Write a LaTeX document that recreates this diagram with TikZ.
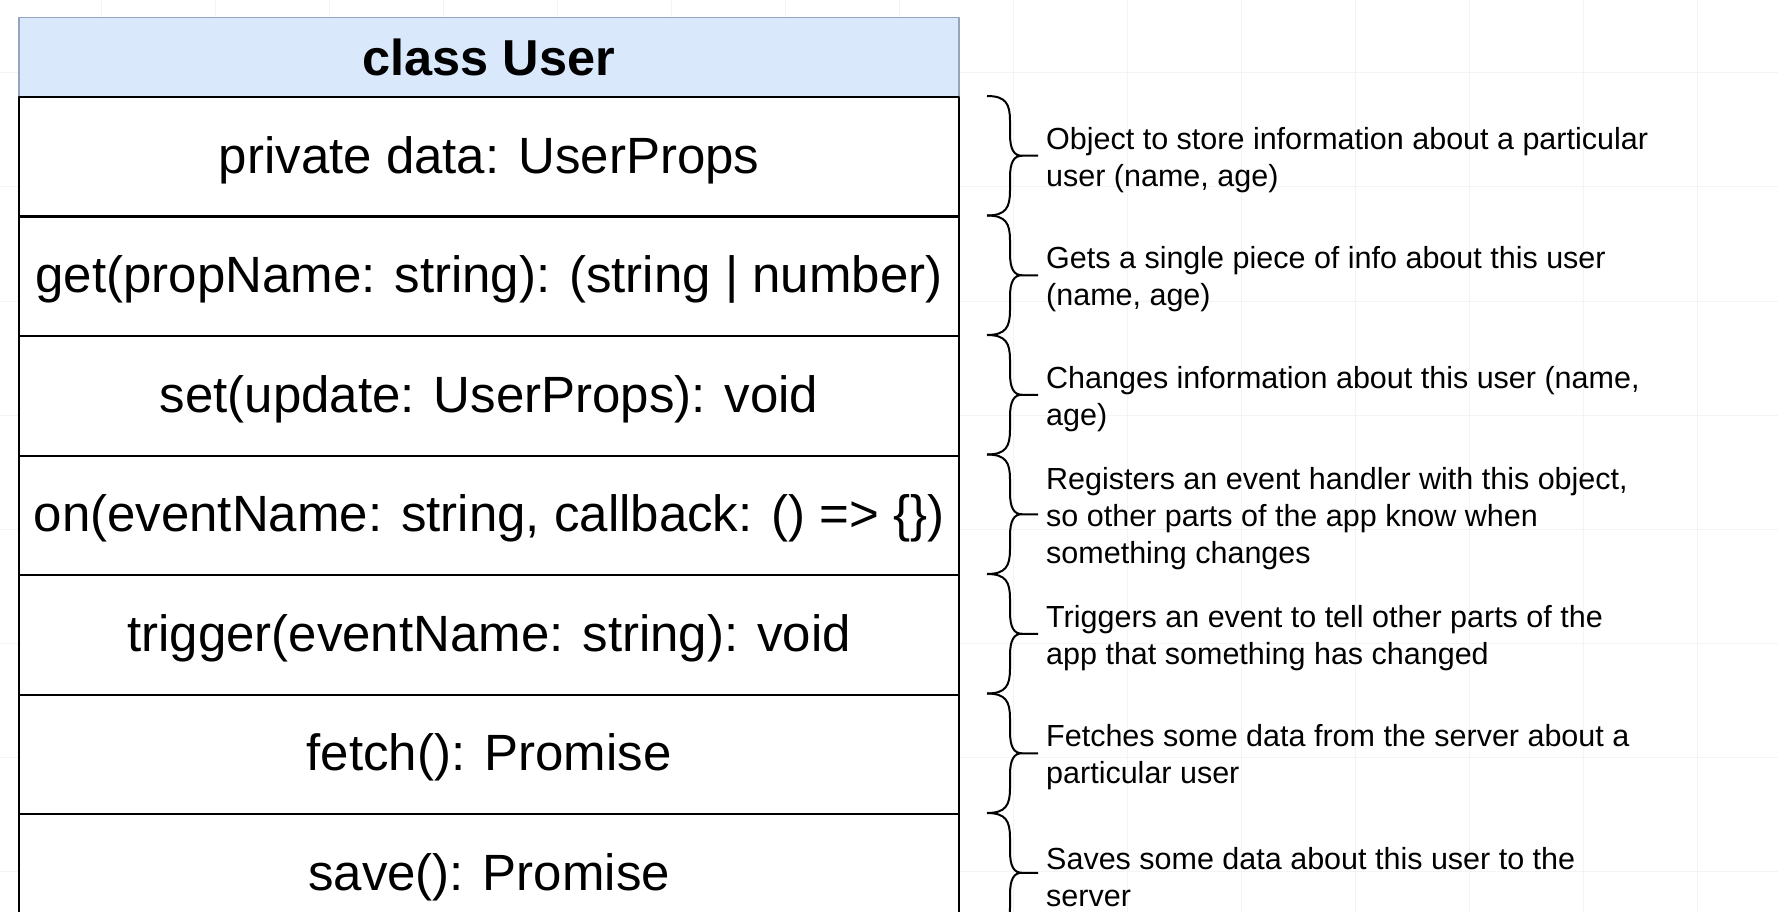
\documentclass[tikz,border=0pt]{standalone}
\usepackage{fontspec}
\setmainfont{Liberation Sans}
\definecolor{hdrfill}{RGB}{218,232,252}
\definecolor{hdrline}{RGB}{150,165,190}
\definecolor{gridc}{RGB}{244,244,244}
\begin{document}
\begin{tikzpicture}[x=1pt,y=-1pt,line join=round,
  gridline/.style={draw=gridc,line width=1pt},
  rowbox/.style={draw=black,line width=2.2pt,fill=white,minimum width=940pt,minimum height=119.5pt,anchor=north west,inner sep=0pt,
    font=\fontsize{51}{61}\selectfont,text height=37pt,text depth=4pt},
  hdrbox/.style={draw=hdrline,line width=1.5pt,fill=hdrfill,minimum width=940pt,minimum height=79pt,anchor=north west,inner sep=0pt,
    font=\fontsize{50.5}{61}\selectfont\bfseries,text height=37pt,text depth=0pt},
  desc/.style={font=\fontsize{30.5}{37}\selectfont,anchor=west,align=left,inner sep=0pt},
  bracepath/.style={draw=black,line width=2pt}]
\useasboundingbox (0,0) rectangle (1778,912);
\clip (0,0) rectangle (1778,912);
\fill[white] (0,0) rectangle (1778,912);
% faint background grid
\foreach \gx in {101,215,...,1778} \draw[gridline] (\gx,0) -- (\gx,912);
\foreach \gy in {73,187,...,912} \draw[gridline] (0,\gy) -- (1778,\gy);
% class box
\node[hdrbox] (hdr) at (18,17) {class User};
\node[rowbox] (r1) at (18,96) {private data: UserProps};
\node[rowbox] (r2) at (18,215.5) {get(propName: string): (string | number)};
\node[rowbox] (r3) at (18,335) {set(update: UserProps): void};
\node[rowbox] (r4) at (18,454.5) {on(eventName: string, callback: () => \{\})};
\node[rowbox] (r5) at (18,574) {trigger(eventName: string): void};
\node[rowbox] (r6) at (18,693.5) {fetch(): Promise};
\node[rowbox] (r7) at (18,813) {save(): Promise};
% braces
\foreach \ya/\yb/\nm in {96/215.5/b1,215.5/335/b2,335/454.5/b3,454.5/574/b4,574/693.5/b5,693.5/813/b6,813/932.5/b7}{
  \pgfmathsetmacro\ym{(\ya+\yb)/2}
  \coordinate (\nm) at (1038,\ym);
  \draw[bracepath] (987,\ya) .. controls (1006,\ya) and (1010,\ya+8) .. (1010,\ya+25)
    -- (1010,\ym-22) .. controls (1010,\ym-6) and (1014,\ym) .. (1022,\ym) -- (\nm)
    (1022,\ym) .. controls (1014,\ym) and (1010,\ym+6) .. (1010,\ym+22)
    -- (1010,\yb-25) .. controls (1010,\yb-8) and (1006,\yb) .. (987,\yb);
}
% descriptions
\node[desc] (d1) at ([xshift=8pt,yshift=-4pt]b1) {Object to store information about a particular\\user (name, age)};
\node[desc] (d2) at ([xshift=8pt,yshift=-4pt]b2) {Gets a single piece of info about this user\\(name, age)};
\node[desc] (d3) at ([xshift=8pt,yshift=-4pt]b3) {Changes information about this user (name,\\age)};
\node[desc] (d4) at ([xshift=8pt,yshift=-4pt]b4) {Registers an event handler with this object,\\so other parts of the app know when\\something changes};
\node[desc] (d5) at ([xshift=8pt,yshift=-4pt]b5) {Triggers an event to tell other parts of the\\app that something has changed};
\node[desc] (d6) at ([xshift=8pt,yshift=-4pt]b6) {Fetches some data from the server about a\\particular user};
\node[desc] (d7) at ([xshift=8pt,yshift=-4pt]b7) {Saves some data about this user to the\\server};
\end{tikzpicture}
\end{document}
